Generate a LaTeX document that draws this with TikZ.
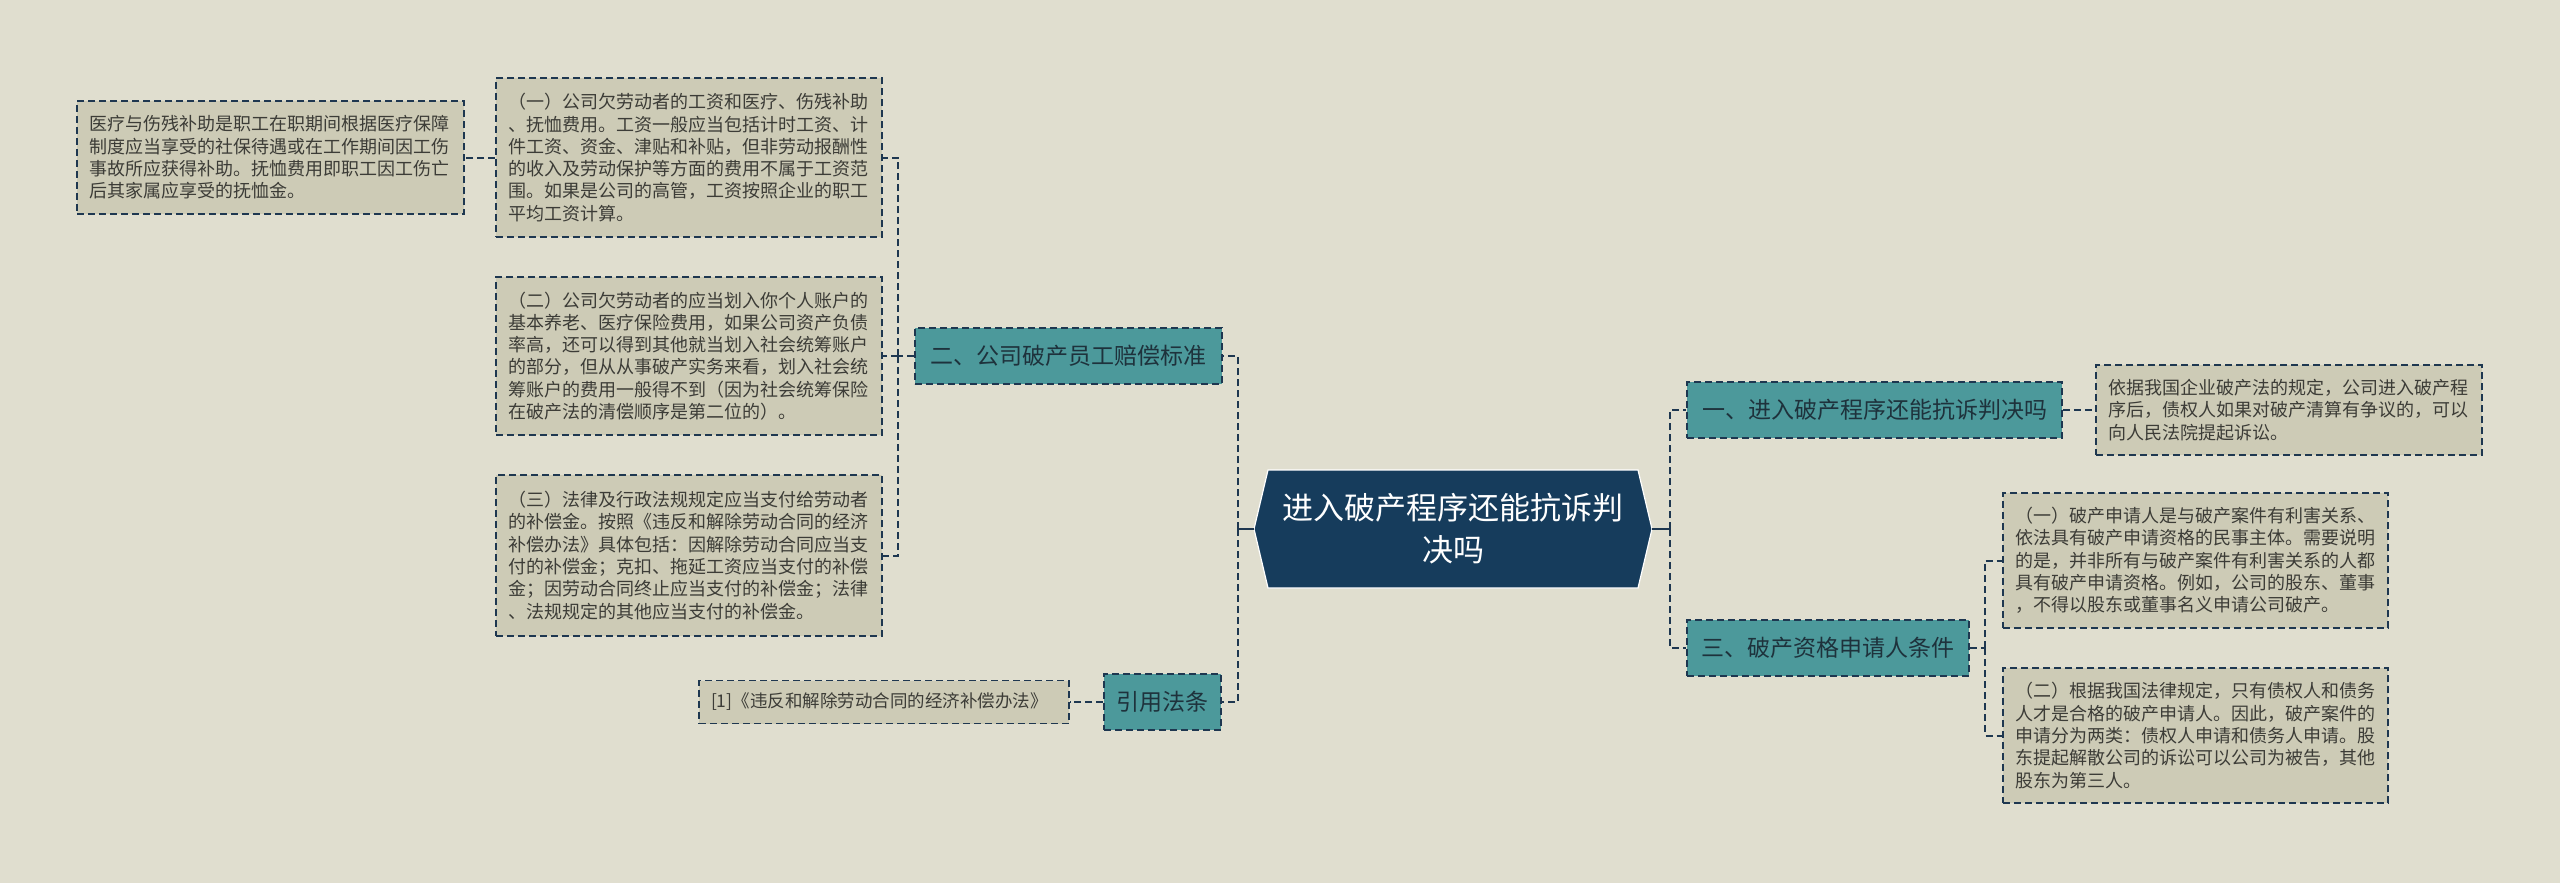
\documentclass[tikz,border=0pt]{standalone}
\usepackage{fontspec}
\newfontfamily\cjk{Noto Sans CJK SC}
\definecolor{bg}{HTML}{E0DECF}
\definecolor{leaffill}{HTML}{CDCBB6}
\definecolor{tealfill}{HTML}{4C999B}
\definecolor{navy}{HTML}{163C5C}
\definecolor{bord}{HTML}{1E3750}
\definecolor{leaftext}{HTML}{3C3C37}
\definecolor{topictext}{HTML}{1E323C}
\begin{document}
\begin{tikzpicture}[x=1pt,y=-1pt,
  leaf/.style={draw=bord, fill=leaffill, line width=1.6pt, dash pattern=on 7pt off 4pt,
    font=\cjk\fontsize{18}{22.3}\selectfont, text=leaftext, align=left,
    inner xsep=12pt, inner ysep=0pt, anchor=center},
  topic/.style={draw=bord, fill=tealfill, line width=1.6pt, dash pattern=on 7pt off 4pt,
    font=\cjk\fontsize{23}{28}\selectfont, text=topictext, inner sep=0pt,
    minimum height=56pt, anchor=center},
  conn/.style={draw=bord, line width=2pt, dash pattern=on 7pt off 4pt},
  solidconn/.style={draw=bord, line width=2.4pt}
]
\useasboundingbox[fill=bg] (0,0) rectangle (2560,883);

% left leaves
\node[leaf, text width=363pt, minimum height=113pt] (leafL) at (270.5,157.5)
 {医疗与伤残补助是职工在职期间根据医疗保障\\制度应当享受的社保待遇或在工作期间因工伤\\事故所应获得补助。抚恤费用即职工因工伤亡\\后其家属应享受的抚恤金。};
\node[leaf, text width=362pt, minimum height=159pt] (b1) at (689,157.5)
 {（一）公司欠劳动者的工资和医疗、伤残补助\\、抚恤费用。工资一般应当包括计时工资、计\\件工资、资金、津贴和补贴，但非劳动报酬性\\的收入及劳动保护等方面的费用不属于工资范\\围。如果是公司的高管，工资按照企业的职工\\平均工资计算。};
\node[leaf, text width=362pt, minimum height=158pt] (b2) at (689,356)
 {（二）公司欠劳动者的应当划入你个人账户的\\基本养老、医疗保险费用，如果公司资产负债\\率高，还可以得到其他就当划入社会统筹账户\\的部分，但从从事破产实务来看，划入社会统\\筹账户的费用一般得不到（因为社会统筹保险\\在破产法的清偿顺序是第二位的）。};
\node[leaf, text width=362pt, minimum height=161pt] (b3) at (689,555.5)
 {（三）法律及行政法规规定应当支付给劳动者\\的补偿金。按照《违反和解除劳动合同的经济\\补偿办法》具体包括：因解除劳动合同应当支\\付的补偿金；克扣、拖延工资应当支付的补偿\\金；因劳动合同终止应当支付的补偿金；法律\\、法规规定的其他应当支付的补偿金。};
\node[leaf, font=\cjk\fontsize{17.5}{22}\selectfont, text width=346pt, minimum height=43pt] (cite) at (884,702)
 {[1]《违反和解除劳动合同的经济补偿办法》};

% topics
\node[topic, minimum width=307pt] (n2) at (1068.5,356) {二、公司破产员工赔偿标准};
\node[topic, minimum width=117pt] (ncite) at (1162.5,702) {引用法条};
\node[topic, minimum width=375pt] (n1) at (1874.5,410) {一、进入破产程序还能抗诉判决吗};
\node[topic, minimum width=282pt] (n3) at (1828,648) {三、破产资格申请人条件};

% right leaves
\node[leaf, text width=362pt, minimum height=90pt] (r1) at (2289,410)
 {依据我国企业破产法的规定，公司进入破产程\\序后，债权人如果对破产清算有争议的，可以\\向人民法院提起诉讼。};
\node[leaf, text width=361pt, minimum height=135pt] (r2) at (2195.5,560.5)
 {（一）破产申请人是与破产案件有利害关系、\\依法具有破产申请资格的民事主体。需要说明\\的是，并非所有与破产案件有利害关系的人都\\具有破产申请资格。例如，公司的股东、董事\\，不得以股东或董事名义申请公司破产。};
\node[leaf, text width=361pt, minimum height=135pt] (r3) at (2195.5,735.5)
 {（二）根据我国法律规定，只有债权人和债务\\人才是合格的破产申请人。因此，破产案件的\\申请分为两类：债权人申请和债务人申请。股\\东提起解散公司的诉讼可以公司为被告，其他\\股东为第三人。};

% center
\fill[navy, draw=white, line width=1.2pt] (1254,529) -- (1268,470) -- (1638,470) -- (1652,529) -- (1638,588) -- (1268,588) -- cycle;
\node[font=\cjk\fontsize{31}{42}\selectfont, text=white, align=center] (c) at (1453,529)
 {进入破产程序还能抗诉判\\决吗};

% connectors
\coordinate (cW) at (1254,529);
\coordinate (cE) at (1652,529);
\coordinate (tL) at (1238,529);
\coordinate (tR) at (1670,529);
\draw[solidconn] (cW) -- (tL);
\draw[solidconn] (cE) -- (tR);
\draw[conn] (tL) |- (n2.east);
\draw[conn] (tL) |- (ncite.east);
\draw[conn] (tR) |- (n1.west);
\draw[conn] (tR) |- (n3.west);

\coordinate (t2) at (898,356);
\draw[conn] (n2.west) -- (t2);
\draw[conn] (t2) |- (b1.east);
\draw[conn] (t2) -- (b2.east);
\draw[conn] (t2) |- (b3.east);
\draw[conn] (b1.west) -- (leafL.east);
\draw[conn] (ncite.west) -- (cite.east);
\draw[conn] (n1.east) -- (r1.west);

\coordinate (t3) at (1985,648);
\draw[conn] (n3.east) -- (t3);
\draw[conn] (t3) |- (r2.west);
\draw[conn] (t3) |- (r3.west);
\end{tikzpicture}
\end{document}
